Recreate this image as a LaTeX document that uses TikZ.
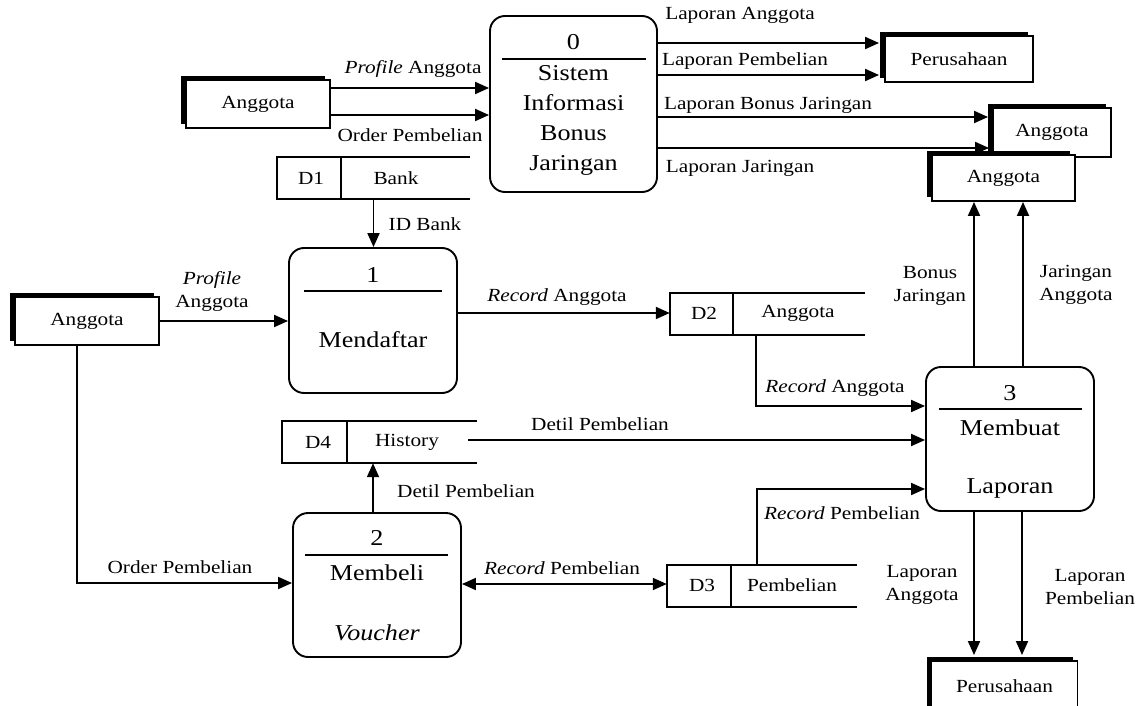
\documentclass[tikz,border=0pt]{standalone}
\usepackage{fontspec}
\setmainfont[FakeStretch=1.15]{Liberation Serif}
\usetikzlibrary{arrows.meta,shadows,calc}
\begin{document}
\begin{tikzpicture}[x=1pt,y=-1pt,
  lbl/.style={font=\fontsize{18.5}{23}\selectfont, inner sep=0pt, align=center},
  ptxt/.style={font=\fontsize{22.7}{30}\selectfont, inner sep=0pt, align=center},
  ent/.style={draw, line width=1.9pt, fill=white, inner sep=0pt, font=\fontsize{18.5}{22}\selectfont,
     general shadow={fill=black, shadow xshift=-5pt, shadow yshift=4pt}},
  proc/.style={draw, line width=1.9pt, rounded corners=15pt, inner sep=0pt},
  store/.style={inner sep=0pt},
  sline/.style={line width=1.9pt},
  arr/.style={line width=1.9pt, -{Triangle[length=14pt,width=12pt]}},
  darr/.style={line width=1.9pt, {Triangle[length=14pt,width=12pt]}-{Triangle[length=14pt,width=12pt]}}
]
\useasboundingbox (0,0) rectangle (1142,706);
\clip (0,0) rectangle (1142,706);

% entities
\node[ent, minimum width=144pt, minimum height=48pt] (e1) at (258,104) {Anggota};
\node[ent, minimum width=148pt, minimum height=46pt] (e2) at (959,59) {Perusahaan};
\node[ent, minimum width=118pt, minimum height=49pt] (e3) at (1052,132.5) {Anggota};
\node[ent, minimum width=143pt, minimum height=46pt] (e4) at (1003.5,178) {Anggota};
\node[ent, minimum width=144pt, minimum height=48pt] (e5) at (87,321) {Anggota};
\node[ent, minimum width=146pt, minimum height=50pt] (e6) at (1004.5,686) {Perusahaan};

% processes
\node[proc, minimum width=167pt, minimum height=176pt] (p0) at (573.5,104) {};
\draw[sline] ($(p0.north west)+(13,44)$) -- ($(p0.north east)+(-12,44)$);
\node[ptxt] (p0n) at (573.5,42) {0};
\node[ptxt] (p0t) at (573.5,120) {Sistem\\Informasi\\Bonus\\Jaringan};

\node[proc, minimum width=168pt, minimum height=145pt] (p1) at (373,320.5) {};
\draw[sline] ($(p1.north west)+(16,44)$) -- ($(p1.north east)+(-16,44)$);
\node[ptxt] (p1n) at (373,275) {1};
\node[ptxt] (p1t) at (373,340) {Mendaftar};

\node[proc, minimum width=168pt, minimum height=144pt] (p2) at (377,585) {};
\draw[sline] ($(p2.north west)+(13,43)$) -- ($(p2.north east)+(-14,43)$);
\node[ptxt] (p2n) at (377,538) {2};
\node[ptxt] (p2t) at (377,573) {Membeli};
\node[ptxt] (p2v) at (377,633) {\textit{Voucher}};

\node[proc, minimum width=168pt, minimum height=144pt] (p3) at (1010,439) {};
\draw[sline] ($(p3.north west)+(14,43)$) -- ($(p3.north east)+(-13,43)$);
\node[ptxt] (p3n) at (1010,393) {3};
\node[ptxt] (p3t) at (1010,428) {Membuat};
\node[ptxt] (p3l) at (1010,488) {Laporan};

% data stores
\node[store, minimum width=193pt, minimum height=42pt] (d1) at (373.5,178) {};
\node[store, minimum width=195pt, minimum height=42pt] (d2) at (767.5,314) {};
\node[store, minimum width=190pt, minimum height=42pt] (d3) at (762,586) {};
\node[store, minimum width=195pt, minimum height=42pt] (d4) at (379.5,442) {};
\foreach \s/\dv in {d1/64,d2/63,d3/64,d4/65} {
  \draw[sline] (\s.north east) -- (\s.north west) -- (\s.south west) -- (\s.south east);
  \draw[sline] ($(\s.north west)+(\dv,0)$) -- ($(\s.south west)+(\dv,0)$);
}
\node[lbl] (d1i) at (311,178) {D1};
\node[lbl] (d1n) at (396,178) {Bank};
\node[lbl] (d2i) at (704,313) {D2};
\node[lbl] (d2n) at (798,313) {Anggota};
\node[lbl] (d3i) at (702,585) {D3};
\node[lbl] (d3n) at (792,585) {Pembelian};
\node[lbl] (d4i) at (318,442) {D4};
\node[lbl] (d4n) at (407,442) {History};

% connectors
\coordinate (c1) at ($(e1.east)+(0,-16)$);
\draw[arr] (c1) -- (c1 -| p0.west);
\coordinate (c2) at ($(e1.east)+(0,11)$);
\draw[arr] (c2) -- (c2 -| p0.west);
\coordinate (c3) at ($(p0.east)+(0,-61)$);
\draw[arr, shorten >=5pt] (c3) -- (c3 -| e2.west);
\coordinate (c4) at ($(p0.east)+(0,-29)$);
\draw[arr, shorten >=5pt] (c4) -- (c4 -| e2.west);
\coordinate (c5) at ($(p0.east)+(0,13)$);
\draw[arr, shorten >=4pt] (c5) -- (c5 -| e3.west);
\coordinate (c6) at ($(p0.east)+(0,44)$);
\draw[arr, shorten >=3pt] (c6) -- (c6 -| e3.west);

\draw[arr] (d1.south) -- (d1.south |- p1.north);
\draw[arr] (e5.east) -- (e5.east -| p1.west);
\coordinate (c9) at ($(p1.east)+(0,-7.5)$);
\draw[arr] (c9) -- (c9 -| d2.west);
\coordinate (c10) at ($(d2.south)+(-11.5,0)$);
\coordinate (c10b) at ($(p3.west)+(0,-33)$);
\draw[arr] (c10) |- (c10b);
\coordinate (c11) at ($(d4.east)+(-9,-2)$);
\draw[arr] (c11) -- (c11 -| p3.west);
\coordinate (c12) at ($(p2.north)+(-4,0)$);
\draw[arr] (c12) -- (c12 |- d4.south);
\coordinate (c13) at ($(e5.south)+(-10,0)$);
\coordinate (c13b) at ($(p2.west)+(0,-2)$);
\draw[arr] (c13) |- (c13b);
\coordinate (c14) at ($(p2.east)+(0,-1)$);
\draw[darr] (c14) -- (c14 -| d3.west);
\coordinate (c15) at ($(d3.north)+(-5,0)$);
\coordinate (c15b) at ($(p3.west)+(0,50)$);
\draw[arr] (c15) |- (c15b);
\coordinate (c16) at ($(p3.north)+(-36,0)$);
\draw[arr] (c16) -- (c16 |- e4.south);
\coordinate (c17) at ($(p3.north)+(13,0)$);
\draw[arr] (c17) -- (c17 |- e4.south);
\coordinate (c18) at ($(p3.south)+(-36,0)$);
\draw[arr, shorten >=5pt] (c18) -- (c18 |- e6.north);
\coordinate (c19) at ($(p3.south)+(12,0)$);
\draw[arr, shorten >=5pt] (c19) -- (c19 |- e6.north);

% labels
\node[lbl] (l1) at (413,69) {\textit{Profile} Anggota};
\node[lbl] (l2) at (410,135) {Order Pembelian};
\node[lbl] (l3) at (740,15) {Laporan Anggota};
\node[lbl] (l4) at (745,61) {Laporan Pembelian};
\node[lbl] (l5) at (768,105) {Laporan Bonus Jaringan};
\node[lbl] (l6) at (740,168) {Laporan Jaringan};
\node[lbl] (l7) at (425,224) {ID Bank};
\node[lbl] (l8) at (212,291) {\textit{Profile}\\Anggota};
\node[lbl] (l9) at (557,297) {\textit{Record} Anggota};
\node[lbl] (l10) at (835,388) {\textit{Record} Anggota};
\node[lbl] (l11) at (600,424) {Detil Pembelian};
\node[lbl] (l12) at (466,491) {Detil Pembelian};
\node[lbl] (l13) at (180,567) {Order Pembelian};
\node[lbl] (l14) at (562,568) {\textit{Record} Pembelian};
\node[lbl] (l15) at (842,513) {\textit{Record} Pembelian};
\node[lbl] (l16) at (930,286) {Bonus\\Jaringan};
\node[lbl] (l17) at (1076,285) {Jaringan\\Anggota};
\node[lbl] (l18) at (922,585) {Laporan\\Anggota};
\node[lbl] (l19) at (1090,587) {Laporan\\Pembelian};
\end{tikzpicture}
\end{document}
